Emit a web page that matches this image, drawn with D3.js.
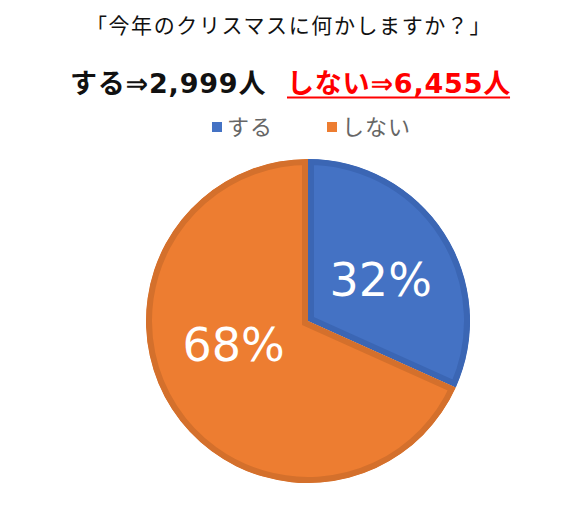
<!DOCTYPE html>
<html><head><meta charset="utf-8">
<script src="https://cdn.jsdelivr.net/npm/d3@7"></script>
<style>body{margin:0;background:#fff;}svg{display:block;}</style>
</head><body>
<svg id="chart" width="580" height="507"></svg>
<script>
const title = "「今年のクリスマスに何かしますか？」";
const categories = ["する", "しない"];
const counts = [2999, 6455];
const percentLabels = ["32%", "68%"];
const fills = ["#4472C4", "#ED7D31"];
const borders = ["#3B66B4", "#D4702C"];

const svg = d3.select("#chart");
const cx = 308, cy = 321, R = 162;
const jp = "'Noto Sans CJK JP', sans-serif";
const mix = "'DejaVu Sans', 'Noto Sans CJK JP', sans-serif";

svg.append("text").attr("x", 289).attr("y", 33).attr("text-anchor", "middle")
  .attr("font-family", jp).attr("font-size", 21).attr("letter-spacing", 1.6)
  .attr("fill", "#111").text(title);

const fmt = d3.format(",");
const sub1 = svg.append("text").attr("x", 70).attr("y", 93)
  .attr("font-family", mix).attr("font-size", 27).attr("font-weight", 600)
  .attr("letter-spacing", 0.8)
  .attr("fill", "#111").text(categories[0] + "⇒" + fmt(counts[0]) + "人");
const sub2 = svg.append("text").attr("x", 287).attr("y", 93)
  .attr("font-family", mix).attr("font-size", 27).attr("font-weight", "bold")
  .attr("letter-spacing", 0.8)
  .attr("fill", "#FF0000").text(categories[1] + "⇒" + fmt(counts[1]) + "人");
const b2 = sub2.node().getBBox();
svg.append("line").attr("x1", b2.x).attr("x2", b2.x + b2.width - 1)
  .attr("y1", 97.5).attr("y2", 97.5).attr("stroke", "#FF0000").attr("stroke-width", 2);

// legend
const legX = d3.scaleOrdinal().domain(categories).range([212, 327]);
const leg = svg.append("g");
categories.forEach((c, i) => {
  leg.append("rect").attr("x", legX(c)).attr("y", 122).attr("width", 10).attr("height", 10)
    .attr("fill", fills[i]);
  leg.append("text").attr("x", legX(c) + 15).attr("y", 135)
    .attr("font-family", jp).attr("font-size", 22).attr("letter-spacing", 1)
    .attr("fill", "#666").text(c);
});

// pie
const pie = d3.pie().sort(null).value(d => d);
const arcs = pie(counts);
const arc = d3.arc().innerRadius(0).outerRadius(R);
const g = svg.append("g").attr("transform", `translate(${cx},${cy})`);
const defs = svg.append("defs");
arcs.forEach((a, i) => {
  defs.append("clipPath").attr("id", "clip" + i).append("path").attr("d", arc(a));
  g.append("path").attr("d", arc(a)).attr("fill", fills[i])
    .attr("stroke", borders[i]).attr("stroke-width", 12)
    .attr("stroke-linejoin", "miter")
    .attr("clip-path", `url(#clip${i})`);
});

// labels
const labelR = [84, 78];
const labelShift = [0.05, 0.27];
arcs.forEach((a, i) => {
  const ang = (a.startAngle + a.endAngle) / 2 + labelShift[i];
  const x = labelR[i] * Math.sin(ang), y = -labelR[i] * Math.cos(ang);
  g.append("text").attr("x", x).attr("y", y).attr("dy", "0.36em")
    .attr("text-anchor", "middle").attr("font-family", "'DejaVu Sans', sans-serif")
    .attr("font-size", 46).attr("fill", "#fff").text(percentLabels[i]);
});
</script>
</body></html>
